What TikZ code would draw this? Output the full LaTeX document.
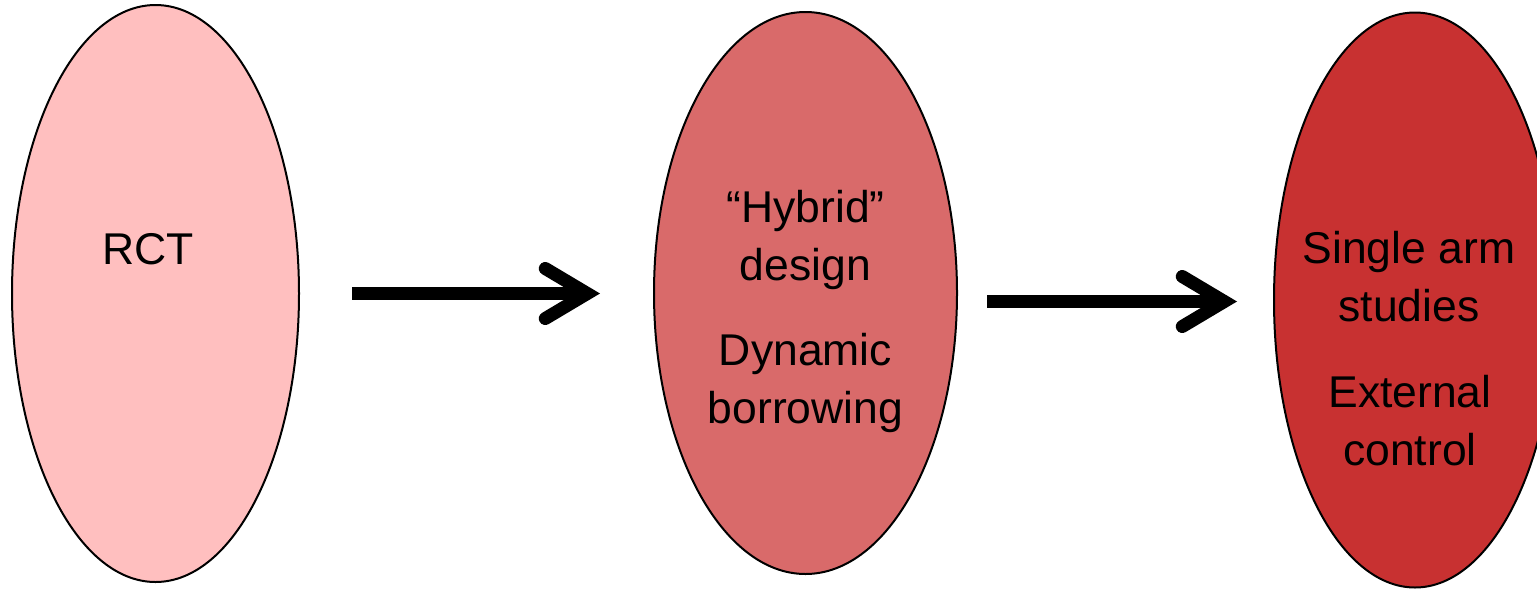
\documentclass[tikz,border=0pt]{standalone}
\usepackage{fontspec}
\setmainfont{Liberation Sans}
\usetikzlibrary{shapes,arrows.meta,positioning}
\definecolor{rctpink}{RGB}{255,191,191}
\definecolor{hybridred}{RGB}{217,106,106}
\definecolor{singlered}{RGB}{200,49,49}

\begin{document}
\begin{tikzpicture}[
    x=0.5pt, y=-0.5pt,
    stage/.style={draw, ellipse, line width=1pt, inner sep=0pt},
    stagetext/.style={font=\fontsize{22.25}{29}\selectfont, align=center, inner sep=0pt},
    flow/.style={line width=6.5pt, -{Straight Barb[length=21pt, width=25pt, line cap=round, line join=miter]}}
]
\useasboundingbox (0,0) rectangle (1537,590);

% Stages
\node[stage, fill=rctpink, minimum width=143.5pt, minimum height=288.5pt] (rct) at (155.5,293.5) {};
\node[stage, fill=hybridred, minimum width=151.5pt, minimum height=281pt] (hybrid) at (805.5,293) {};
\node[stage, fill=singlered, minimum width=141pt, minimum height=287.5pt] (single) at (1415,300) {};

% Texts
\node[stagetext] (rcttext) at (148,249) {RCT};
\node[stagetext] (hybridtext) at (805.5,240) {``Hybrid''\\design};
\node[stagetext] (borrowtext) at (805.5,383) {Dynamic\\borrowing};
\node[stagetext] (singletext) at (1409,277) {Single arm\\studies};
\node[stagetext] (externaltext) at (1410,421) {External\\control};

% Arrows
\coordinate (a1start) at (352,293.5);
\coordinate (a1end) at (600,293.5);
\coordinate (a2start) at (987,301.5);
\coordinate (a2end) at (1237,301.5);
\draw[flow] (a1start) -- (a1end);
\draw[flow] (a2start) -- (a2end);

\end{tikzpicture}
\end{document}
